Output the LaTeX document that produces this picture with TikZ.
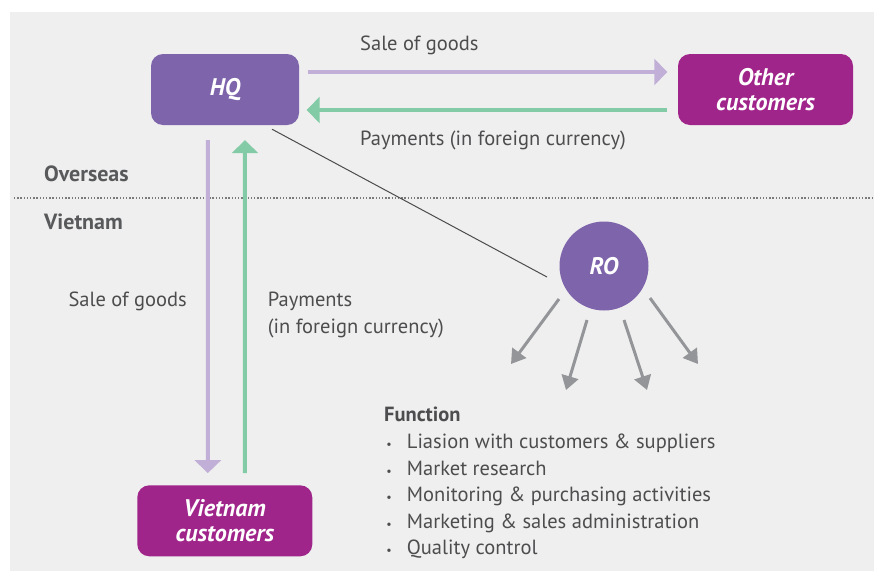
\documentclass[tikz,border=0pt]{standalone}
\usepackage{fontspec}
\setmainfont{PT Sans}
\usetikzlibrary{arrows.meta}

\definecolor{hqpurple}{HTML}{7E64AB}
\definecolor{custmagenta}{HTML}{A0258A}
\definecolor{salelilac}{HTML}{C1AFD7}
\definecolor{paygreen}{HTML}{82CBA6}
\definecolor{fungray}{HTML}{939598}
\definecolor{panelgray}{HTML}{EFEFEF}
\definecolor{textgray}{HTML}{4D4D4F}
\definecolor{regiongray}{HTML}{58595B}

\newcommand{\fbul}{\llap{{\fontsize{12}{12}\selectfont\textbullet}\hspace{15pt}}}

\begin{document}
\begin{tikzpicture}[
        x=1pt, y=-1pt,
        office/.style={
            rectangle,
            rounded corners=12pt,
            fill=hqpurple,
            text=white,
            minimum width=148pt,
            minimum height=71pt,
            inner sep=0pt,
            align=center,
            font=\fontsize{24}{24.5}\selectfont\bfseries\itshape
        },
        customer/.style={office, fill=custmagenta, minimum width=175pt},
        label/.style={text=textgray, inner sep=0pt, anchor=base west,
            font=\fontsize{20.5}{22}\selectfont},
        region/.style={label, text=regiongray, font=\fontsize{22}{24}\selectfont\bfseries},
        sale/.style={-{Triangle[length=13pt, width=26pt]}, line width=4pt, salelilac},
        pay/.style={-{Triangle[length=13pt, width=26pt]}, line width=4pt, paygreen},
        task/.style={-{Triangle[length=14pt, width=17pt]}, line width=3pt, fungray},
        link/.style={line width=1pt, black!70}
    ]
        % Background
        \useasboundingbox (0,0) rectangle (874,571);
        \fill[white] (0,0) rectangle (874,571);
        \fill[panelgray] (10,12) rectangle (874,571);
        \draw[regiongray!80, line width=1.3pt, dash pattern=on 1.3pt off 1.9pt] (14,198) -- (874,198);

        % Nodes
        \node[office] (hq) at (225,89.5) {HQ};
        \node[customer] (other) at (765.5,89.5) {Other\\customers};
        \node[customer] (vn) at (224.8,520.8) {Vietnam\\customers};
        \node[circle, fill=hqpurple, minimum size=89pt, inner sep=0pt, text=white,
            font=\fontsize{24}{24}\selectfont\bfseries\itshape] (ro) at (604,266) {RO};

        \node[region] (overseas) at (44,181.7) {Overseas};
        \node[region] (vietnam) at (44,229) {Vietnam};

        \coordinate (task1) at (511,364);
        \coordinate (task2) at (566,390);
        \coordinate (task3) at (647,390);
        \coordinate (task4) at (698,364);

        % Edges
        \draw[sale, shorten <=8.5pt, shorten >=10.5pt] ([yshift=17.5pt]hq.east) -- ([yshift=17.5pt]other.west);
        \draw[pay, shorten <=10.5pt, shorten >=7.5pt] ([yshift=-20.5pt]other.west) -- ([yshift=-20.5pt]hq.east);
        \draw[sale, shorten <=15pt, shorten >=12pt] ([xshift=-17pt]hq.south) -- ([xshift=-17pt]vn.north);
        \draw[pay, shorten <=12pt, shorten >=15pt] ([xshift=20pt]vn.north) -- ([xshift=20pt]hq.south);
        \draw[link] ([shift={(47,4)}]hq.south) -- ([shift={(-57,11)}]ro.center);

        \draw[task] ([shift={(-45,33)}]ro.center) -- (task1);
        \draw[task] ([shift={(-17,54)}]ro.center) -- (task2);
        \draw[task] ([shift={(20,54)}]ro.center) -- (task3);
        \draw[task] ([shift={(46,32)}]ro.center) -- (task4);

        % Labels
        \node[label] (topsale) at (360,50) {Sale of goods};
        \node[label] (toppay) at (360,145) {Payments (in foreign currency)};
        \node[label] (leftsale) at (68.3,306.7) {Sale of goods};
        \node[label] (leftpay) at (267.7,306.7) {Payments};
        \node[label] (leftpay2) at (267.7,333.3) {(in foreign currency)};

        % Function list
        \node[label, font=\fontsize{20.5}{22}\selectfont\bfseries] (func) at (384,421.7) {Function};
        \node[label] (f1) at (406.7,448.3) {\fbul Liasion with customers \& suppliers};
        \node[label] (f2) at (406.7,475) {\fbul Market research};
        \node[label] (f3) at (406.7,501.7) {\fbul Monitoring \& purchasing activities};
        \node[label] (f4) at (406.7,528.2) {\fbul Marketing \& sales administration};
        \node[label] (f5) at (406.7,554.6) {\fbul Quality control};
    \end{tikzpicture}
\end{document}
